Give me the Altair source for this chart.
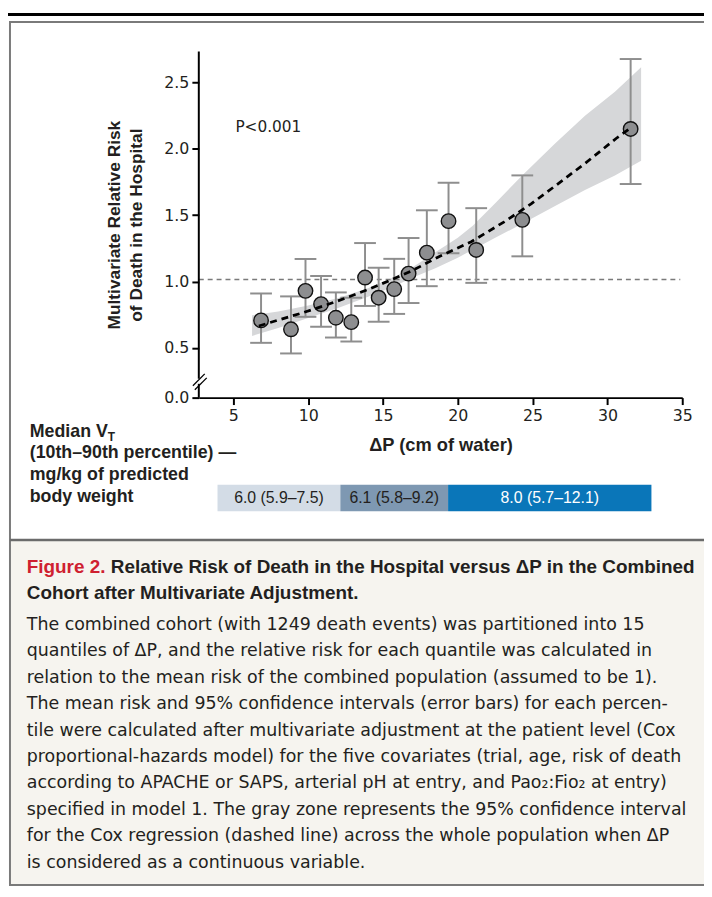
import altair as alt
import pandas as pd

# ---------------- data ----------------
# 15 quantiles of driving pressure (cm of water)
dp_q = [6.85, 8.85, 9.82, 10.86, 11.85, 12.88, 13.80, 14.71, 15.75, 16.71, 17.93, 19.38, 21.23, 24.31, 31.55]
rr_q = [0.707, 0.640, 0.930, 0.830, 0.727, 0.694, 1.030, 0.878, 0.943, 1.060, 1.218, 1.455, 1.238, 1.465, 2.150]
ci_lo = [0.538, 0.458, 0.734, 0.660, 0.578, 0.548, 0.816, 0.697, 0.756, 0.838, 0.965, 1.213, 0.990, 1.190, 1.735]
ci_hi = [0.910, 0.888, 1.170, 1.042, 0.918, 0.878, 1.290, 1.104, 1.171, 1.328, 1.537, 1.745, 1.553, 1.800, 2.677]

# Cox regression (dashed line)
cox_dp = [6.7, 8.0, 9.5, 11.0, 12.5, 14.0, 15.5, 17.0, 18.7, 20.9, 23.1, 24.9, 26.5, 28.5, 30.6, 31.4]
cox_rr = [0.665, 0.71, 0.76, 0.815, 0.875, 0.94, 1.01, 1.085, 1.185, 1.30, 1.45, 1.585, 1.72, 1.89, 2.08, 2.145]

# 95% CI of the Cox regression (gray zone)
band_dp = [6.25, 8.0, 10.0, 12.0, 14.0, 15.75, 17.0, 18.5, 20.0, 21.0, 22.5, 24.3, 26.5, 28.5, 30.5, 32.25]
band_lo = [0.59, 0.65, 0.725, 0.80, 0.885, 0.965, 1.03, 1.10, 1.18, 1.24, 1.33, 1.435, 1.57, 1.69, 1.80, 1.91]
band_hi = [0.745, 0.775, 0.82, 0.875, 0.95, 1.035, 1.11, 1.22, 1.33, 1.42, 1.59, 1.80, 2.04, 2.25, 2.43, 2.615]

ref_level = [1.015]

# median tidal volume bands (on the driving-pressure axis)
vt_labels = ["6.0 (5.9\u20137.5)", "6.1 (5.8\u20139.2)", "8.0 (5.7\u201312.1)"]
vt_start = [3.94, 12.15, 19.35]
vt_end = [12.15, 19.35, 32.94]
vt_colors = ["#d3dce6", "#7e98b2", "#0a76b9"]
vt_text_colors = ["#231f20", "#231f20", "#ffffff"]

x_ticks = [5, 10, 15, 20, 25, 30, 35]
y_ticks = [0.125, 0.5, 1.0, 1.5, 2.0, 2.5]
x_domain = [2.69, 35]
y_domain = [0.125, 2.733]

# ---------------- layout ----------------
W, H = 489, 350
PAD = {"left": 193, "top": 39, "right": 22, "bottom": 500}
INK = "#231f20"
TICKF = "DejaVu Sans"
BOLDF = "Liberation Sans"
BODYF = "DejaVu Sans"

xs = alt.Scale(domain=x_domain, nice=False, zero=False)
ys = alt.Scale(domain=y_domain, nice=False, zero=False)

one = pd.DataFrame({"a": [0]})


def txt(s, x, y, size, font, weight="normal", color=INK, align="left",
        baseline="alphabetic", **kw):
    return alt.Chart(pd.DataFrame({"t": [s]})).mark_text(
        align=align, baseline=baseline, font=font, fontSize=size,
        fontWeight=weight, color=color, **kw
    ).encode(x=alt.value(x), y=alt.value(y), text="t:N")


def rect(x1, x2, y1, y2, **kw):
    return alt.Chart(one).mark_rect(**kw).encode(
        x=alt.value(x1), x2=alt.value(x2), y=alt.value(y1), y2=alt.value(y2))


def rule(x1, x2, y1, y2, **kw):
    return alt.Chart(one).mark_rule(**kw).encode(
        x=alt.value(x1), x2=alt.value(x2), y=alt.value(y1), y2=alt.value(y2))


# background decorations
deco_bg = [
    rect(-191, 530, 494, 843, fill="#f6f4ef"),
    rule(-193, 511, -37.5, -37.5, color="#000000", strokeWidth=3),
    rect(-191, 530, -30, 843, fillOpacity=0, stroke="#7a7a7a", strokeWidth=2),
    rule(-191, 511, 494, 494, color="#6b6b6b", strokeWidth=2.5),
]

qdf = pd.DataFrame({"dp": dp_q, "rr": rr_q, "lo": ci_lo, "hi": ci_hi})
cdf = pd.DataFrame({"dp": cox_dp, "rr": cox_rr})
bdf = pd.DataFrame({"dp": band_dp, "lo": band_lo, "hi": band_hi})
rdf = pd.DataFrame({"v": ref_level})
vdf = pd.DataFrame({"lab": vt_labels, "s": vt_start, "e": vt_end,
                    "c": vt_colors, "tc": vt_text_colors})

x_axis = alt.Axis(values=x_ticks, title="\u0394P (cm of water)", grid=False,
                  labelFont=TICKF, labelFontSize=16, labelColor=INK, labelPadding=3,
                  labelFlush=False, tickSize=7, tickWidth=2, tickColor="#000",
                  domainColor="#000", domainWidth=2,
                  titleFont=BOLDF, titleFontSize=18.5, titleFontWeight="bold",
                  titleColor=INK, titlePadding=12)
y_axis = alt.Axis(values=y_ticks, grid=False, domain=False,
                  labelExpr="datum.value < 0.3 ? '0.0' : format(datum.value, '.1f')",
                  labelFont=TICKF, labelFontSize=16, labelColor=INK, labelPadding=3,
                  labelFlush=False, labelOverlap=False,
                  tickSize=7, tickWidth=2, tickColor="#000",
                  title=["Multivariate Relative Risk", "of Death in the Hospital"],
                  titleFont=BOLDF, titleFontSize=17.5, titleFontWeight="bold",
                  titleColor=INK, titlePadding=19, titleLineHeight=22)


def X(f):
    return alt.X(f, type="quantitative", scale=xs, axis=x_axis)


def Y(f):
    return alt.Y(f, type="quantitative", scale=ys, axis=y_axis)


band = alt.Chart(bdf).mark_area(color="#d6d7d9", opacity=1).encode(
    x=X("dp"), y=Y("lo"), y2="hi:Q")

ref = alt.Chart(rdf).mark_rule(color="#7a7a7a", strokeWidth=1.5, strokeDash=[5, 4]).encode(
    x=alt.value(0), x2=alt.value(487), y=Y("v"))

ebar = alt.Chart(qdf).mark_rule(color="#8e8e8e", strokeWidth=2).encode(
    x=X("dp"), y=Y("lo"), y2="hi:Q")
cap_lo = alt.Chart(qdf).mark_tick(color="#8e8e8e", orient="horizontal", size=22,
                                  thickness=2, opacity=1).encode(x=X("dp"), y=Y("lo"))
cap_hi = alt.Chart(qdf).mark_tick(color="#8e8e8e", orient="horizontal", size=22,
                                  thickness=2, opacity=1).encode(x=X("dp"), y=Y("hi"))

pts = alt.Chart(qdf).mark_circle(size=215, color="#8d8e90", stroke="#111111",
                                 strokeWidth=1.4, opacity=1).encode(x=X("dp"), y=Y("rr"))

cox = alt.Chart(cdf).mark_line(color="#000000", strokeWidth=2.8, strokeDash=[7, 5]).encode(
    x=X("dp"), y=Y("rr"))

# broken y-axis line and break marks
yline = [
    rule(0, 0, 0, 331, color="#000", strokeWidth=2),
    rule(0, 0, 336, 350, color="#000", strokeWidth=2),
    rule(-6, 6, 338, 326, color="#000", strokeWidth=1.3),
    rule(-4, 8, 342, 330, color="#000", strokeWidth=1.3),
]

vt_rect = alt.Chart(vdf).mark_rect().encode(
    x=X("s"), x2="e:Q",
    y=alt.value(438), y2=alt.value(465),
    color=alt.Color("c:N", scale=None, legend=None))
vt_text = alt.Chart(vdf).transform_calculate(m="(datum.s + datum.e) / 2").mark_text(
    font=BOLDF, fontSize=16, baseline="middle", align="center").encode(
    x=X("m"), y=alt.value(452),
    text="lab:N", color=alt.Color("tc:N", scale=None, legend=None))

labels = [
    txt("P<0.001", 37, 76, 15.5, TICKF, baseline="middle"),
    txt("Median V", -171, 389.5, 18, BOLDF, "bold"),
    txt("T", -92, 394, 12, BOLDF, "bold"),
    txt("(10th\u201390th percentile) \u2014", -171, 411.5, 18, BOLDF, "bold"),
    txt("mg/kg of predicted", -171, 433.5, 18, BOLDF, "bold"),
    txt("body weight", -171, 455.5, 18, BOLDF, "bold"),
    txt("Figure 2.", -174, 527, 19.1, BOLDF, "bold", color="#cf2030"),
    txt("Relative Risk of Death in the Hospital versus \u0394P in the Combined",
        -89, 527, 19.1, BOLDF, "bold"),
    txt("Cohort after Multivariate Adjustment.", -174, 553.3, 19.1, BOLDF, "bold"),
]

body = "\n".join([
    "The combined cohort (with 1249 death events) was partitioned into 15",
    "quantiles of \u0394P, and the relative risk for each quantile was calculated in",
    "relation to the mean risk of the combined population (assumed to be 1).",
    "The mean risk and 95% confidence intervals (error bars) for each percen-",
    "tile were calculated after multivariate adjustment at the patient level (Cox",
    "proportional-hazards model) for the five covariates (trial, age, risk of death",
    "according to APACHE or SAPS, arterial pH at entry, and Pao\u2082:Fio\u2082 at entry)",
    "specified in model 1. The gray zone represents the 95% confidence interval",
    "for the Cox regression (dashed line) across the whole population when \u0394P",
    "is considered as a continuous variable.",
])
body_txt = txt(body, -174, 585, 17.6, BODYF, lineBreak="\n", lineHeight=26.7)

chart = alt.layer(
    *deco_bg, band, ref, ebar, cap_lo, cap_hi, pts, cox, *yline,
    vt_rect, vt_text, *labels, body_txt
).properties(
    width=W, height=H, padding=PAD,
    autosize=alt.AutoSizeParams(type="none"),
    background="#ffffff",
).configure_view(stroke=None)

chart.save("out.html", embed_options={"renderer": "svg", "actions": False})
